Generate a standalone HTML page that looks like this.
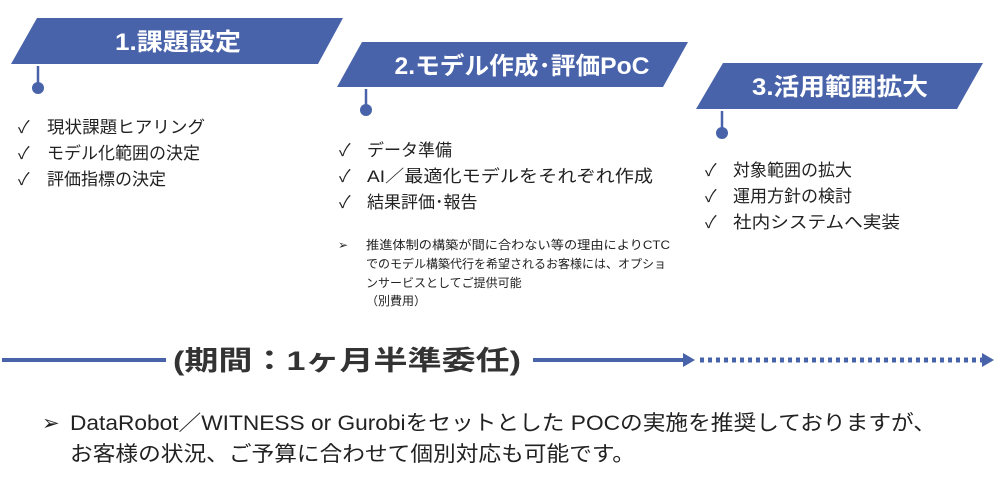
<!DOCTYPE html>
<html><head><meta charset="utf-8"><style>
html,body{margin:0;padding:0;background:#fff;}
svg{display:block;}
text{font-family:"Liberation Sans","Noto Sans CJK JP",sans-serif;}
</style></head><body>
<svg width="1000" height="481" viewBox="0 0 1000 481" xmlns="http://www.w3.org/2000/svg">
<g fill="#4863AA">
<polygon points="37,18 343,18 318,64 11,64"/>
<polygon points="362,42 688,42 663,87 337,87"/>
<polygon points="723,63 983,63 957,109 696,109"/>
</g>
<g stroke="#4863AA" stroke-width="2.5">
<line x1="38" y1="66" x2="38" y2="86"/>
<line x1="366" y1="89" x2="366" y2="107"/>
<line x1="722" y1="111" x2="722" y2="130"/>
</g>
<g fill="#4863AA">
<circle cx="38" cy="88" r="6"/>
<circle cx="366" cy="110" r="6"/>
<circle cx="722" cy="133" r="6"/>
</g>
<g fill="#fff" font-weight="bold" font-size="24" text-anchor="middle">
<text x="178" y="50" textLength="126" lengthAdjust="spacingAndGlyphs">1.課題設定</text>
<text x="522" y="74" textLength="255" lengthAdjust="spacingAndGlyphs">2.モデル作成･評価PoC</text>
<text x="840" y="95" textLength="176" lengthAdjust="spacingAndGlyphs">3.活用範囲拡大</text>
</g>
<g fill="#222" font-size="17">
<text x="18" y="133">✓</text><text x="47" y="133" textLength="158" lengthAdjust="spacingAndGlyphs">現状課題ヒアリング</text>
<text x="18" y="159">✓</text><text x="47" y="159">モデル化範囲の決定</text>
<text x="18" y="185">✓</text><text x="47" y="185">評価指標の決定</text>
<text x="339" y="156">✓</text><text x="367" y="156">データ準備</text>
<text x="339" y="182">✓</text><text x="367" y="182" textLength="286" lengthAdjust="spacingAndGlyphs">AI／最適化モデルをそれぞれ作成</text>
<text x="339" y="208">✓</text><text x="367" y="208">結果評価･報告</text>
<text x="705" y="176">✓</text><text x="733" y="176">対象範囲の拡大</text>
<text x="705" y="202">✓</text><text x="733" y="202">運用方針の検討</text>
<text x="705" y="228">✓</text><text x="733" y="228" textLength="167" lengthAdjust="spacingAndGlyphs">社内システムへ実装</text>
</g>
<g fill="#222" font-size="12">
<text x="338" y="249">➢</text>
<text x="366" y="249" textLength="304" lengthAdjust="spacingAndGlyphs">推進体制の構築が間に合わない等の理由によりCTC</text>
<text x="366" y="268">でのモデル構築代行を希望されるお客様には、オプショ</text>
<text x="366" y="287">ンサービスとしてご提供可能</text>
<text x="366" y="305">（別費用）</text>
</g>
<line x1="2" y1="360" x2="166" y2="360" stroke="#4863AA" stroke-width="4"/>
<text x="347" y="370" fill="#333" font-size="27" font-weight="bold" text-anchor="middle" textLength="348" lengthAdjust="spacingAndGlyphs">(期間：1ヶ月半準委任)</text>
<line x1="533" y1="360" x2="684" y2="360" stroke="#4863AA" stroke-width="4"/>
<polygon points="683,353 695,360 683,367" fill="#4863AA"/>
<line x1="700" y1="360" x2="983" y2="360" stroke="#4863AA" stroke-width="5" stroke-dasharray="4,4"/>
<polygon points="982,353 994,360 982,367" fill="#4863AA"/>
<g fill="#222" font-size="21">
<text x="42" y="430">➢</text>
<text x="70" y="430" textLength="866" lengthAdjust="spacingAndGlyphs">DataRobot／WITNESS or Gurobiをセットとした POCの実施を推奨しておりますが、</text>
<text x="70" y="461" textLength="565" lengthAdjust="spacingAndGlyphs">お客様の状況、ご予算に合わせて個別対応も可能です。</text>
</g>
</svg>
</body></html>
